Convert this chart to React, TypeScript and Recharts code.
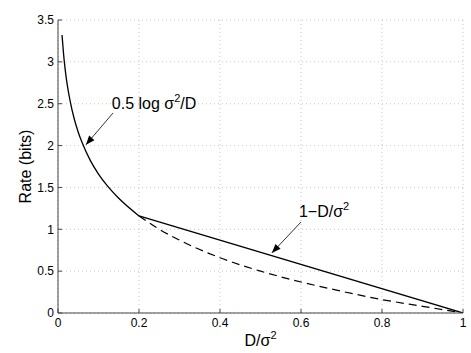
import React from "react";
import {
  LineChart,
  Line,
  XAxis,
  YAxis,
  CartesianGrid,
  ReferenceLine,
  ReferenceDot,
} from "recharts";

// Rate-distortion curve (solid, low distortion part)
const curveD = [0.01, 0.015, 0.02, 0.03, 0.04, 0.05, 0.06, 0.08, 0.1, 0.12, 0.15, 0.2];
const curveR = [3.32, 3.03, 2.82, 2.53, 2.32, 2.16, 2.03, 1.82, 1.66, 1.53, 1.37, 1.16];
// Straight segment (solid)
const lineD = [0.2, 1.0];
const lineR = [1.16, 0.0];
// Continuation of log curve (dashed)
const dashD = [0.2, 0.25, 0.3, 0.4, 0.5, 0.6, 0.7, 0.8, 0.9, 1.0];
const dashR = [1.16, 1.0, 0.87, 0.66, 0.5, 0.37, 0.26, 0.16, 0.08, 0.0];

const xTicks = [0, 0.2, 0.4, 0.6, 0.8, 1];
const yTicks = [0, 0.5, 1, 1.5, 2, 2.5, 3, 3.5];

// annotation anchors (data coordinates)
const ann1Text = { x: 0.133, y: 2.44 };
const ann1Arrow = [{ x: 0.136, y: 2.39 }, { x: 0.069, y: 2.01 }];
const ann2Text = { x: 0.595, y: 1.147 };
const ann2Arrow = [{ x: 0.6, y: 1.087 }, { x: 0.528, y: 0.717 }];

const toPts = (xs: number[], ys: number[]) => xs.map((d, i) => ({ d, r: ys[i] }));
const curveData = toPts(curveD, curveR);
const lineData = toPts(lineD, lineR);
const dashData = toPts(dashD, dashR);

const FONT = "'Liberation Sans', Arial, Helvetica, sans-serif";
const LFS = 16;

const Arrow = (props: any) => {
  const { x1, y1, x2, y2 } = props;
  const ang = Math.atan2(y2 - y1, x2 - x1);
  const L = 9;
  const W = 3.5;
  const bx = x2 - L * Math.cos(ang);
  const by = y2 - L * Math.sin(ang);
  const px = -Math.sin(ang) * W;
  const py = Math.cos(ang) * W;
  return (
    <g>
      <line x1={x1} y1={y1} x2={x2} y2={y2} stroke="#000" strokeWidth={0.8} />
      <polygon
        points={`${x2},${y2} ${bx + px},${by + py} ${bx - px},${by - py}`}
        fill="#000"
      />
    </g>
  );
};

const segShape = (props: any) => {
  const { x1, y1, x2, y2 } = props;
  if ([x1, y1, x2, y2].some((v) => v === undefined || isNaN(v))) return <g />;
  return <Arrow x1={x1} y1={y1} x2={x2} y2={y2} />;
};

const Label1 = (props: any) => (
  <text x={props.cx} y={props.cy} fontFamily={FONT} fontSize={LFS} fill="#000">
    0.5 log σ
    <tspan fontSize={11} dy={-7}>2</tspan>
    <tspan dy={7}>/D</tspan>
  </text>
);

const Label2 = (props: any) => (
  <text x={props.cx} y={props.cy} fontFamily={FONT} fontSize={LFS} fill="#000">
    1−D/σ
    <tspan fontSize={11} dy={-7}>2</tspan>
  </text>
);

const XLabel = (props: any) => {
  const vb = props.viewBox || {};
  return (
    <text
      x={vb.x + vb.width / 2}
      y={vb.y + 33}
      textAnchor="middle"
      fontFamily={FONT}
      fontSize={LFS}
      fill="#000"
    >
      D/σ<tspan fontSize={11} dy={-7}>2</tspan>
    </text>
  );
};

const YLabel = (props: any) => {
  const vb = props.viewBox || {};
  const cx = 31;
  const cy = vb.y + vb.height / 2;
  return (
    <text
      x={cx}
      y={cy}
      transform={`rotate(-90 ${cx} ${cy})`}
      textAnchor="middle"
      fontFamily={FONT}
      fontSize={LFS}
      fill="#000"
    >
      Rate (bits)
    </text>
  );
};

export default function App() {
  const tickStyle = { fontFamily: FONT, fontSize: 12, fill: "#000" };
  return (
    <div style={{ position: "absolute", left: 0, top: 0, background: "#fff" }}>
      <LineChart
        width={471}
        height={353}
        margin={{ top: 20, right: 8, bottom: 0, left: 0 }}
      >
        <CartesianGrid stroke="#c8c8c8" strokeDasharray="1 3" />
        <XAxis
          dataKey="d"
          type="number"
          domain={[0, 1]}
          ticks={xTicks}
          height={40}
          allowDataOverflow
          tickSize={-4}
          tickMargin={9}
          tick={tickStyle}
          stroke="#444"
          label={<XLabel />}
        />
        <XAxis
          xAxisId="top"
          orientation="top"
          dataKey="d"
          type="number"
          domain={[0, 1]}
          ticks={xTicks}
          height={0}
          tickSize={-4}
          tick={false}
          stroke="#444"
        />
        <YAxis
          dataKey="r"
          type="number"
          domain={[0, 3.5]}
          ticks={yTicks}
          width={58}
          allowDataOverflow
          tickSize={-4}
          tickMargin={8}
          tick={tickStyle}
          stroke="#444"
          label={<YLabel />}
        />
        <YAxis
          yAxisId="right"
          orientation="right"
          type="number"
          domain={[0, 3.5]}
          ticks={yTicks}
          width={0}
          tickSize={-4}
          tick={false}
          stroke="#444"
        />
        <Line
          data={dashData}
          dataKey="r"
          type="monotone"
          stroke="#000"
          strokeWidth={1.2}
          strokeDasharray="8 5"
          dot={false}
          isAnimationActive={false}
        />
        <Line
          data={curveData}
          dataKey="r"
          type="monotone"
          stroke="#000"
          strokeWidth={1.3}
          dot={false}
          isAnimationActive={false}
        />
        <Line
          data={lineData}
          dataKey="r"
          type="linear"
          stroke="#000"
          strokeWidth={1.3}
          dot={false}
          isAnimationActive={false}
        />
        <ReferenceLine segment={ann1Arrow} shape={segShape} ifOverflow="visible" />
        <ReferenceLine segment={ann2Arrow} shape={segShape} ifOverflow="visible" />
        <ReferenceDot
          x={ann1Text.x}
          y={ann1Text.y}
          r={0}
          shape={Label1}
          ifOverflow="visible"
        />
        <ReferenceDot
          x={ann2Text.x}
          y={ann2Text.y}
          r={0}
          shape={Label2}
          ifOverflow="visible"
        />
      </LineChart>
    </div>
  );
}
